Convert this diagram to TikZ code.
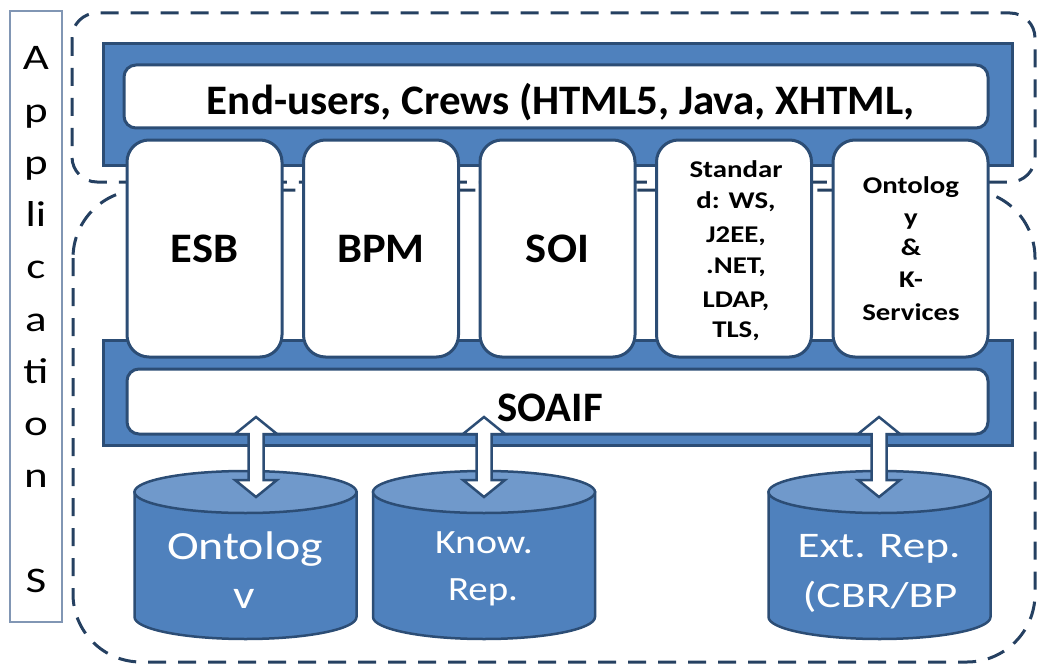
\documentclass[tikz,border=0pt]{standalone}
\usepackage{fontspec}
\setmainfont{Carlito}
\usepackage{graphicx}
\definecolor{blueF}{HTML}{4F81BD}
\definecolor{blueD}{HTML}{2C4D75}
\definecolor{cylTop}{HTML}{7099CB}
\definecolor{dashC}{HTML}{254061}
\definecolor{appBox}{HTML}{8196B4}
\newcommand{\sx}[2]{\scalebox{#1}[1]{#2}}
\newcommand{\rw}[2]{\resizebox{#1}{\height}{#2}}
\begin{document}
\begin{tikzpicture}[x=1pt,y=-1pt,
  band/.style={fill=blueF, draw=blueD, line width=3pt, inner sep=0pt},
  wbar/.style={fill=white, draw=blueD, line width=3pt, rounded corners=12pt, inner sep=0pt},
  colbox/.style={fill=white, draw=blueD, line width=3pt, rounded corners=22pt, inner sep=0pt, minimum width=155pt, minimum height=217pt},
  dashbox/.style={draw=dashC, line width=3pt, dash pattern=on 18pt off 12pt},
  barrow/.style={fill=white, draw=blueD, line width=2.5pt, line join=miter},
  cylbody/.style={fill=blueF, draw=blueD, line width=2.5pt},
  cyltop/.style={fill=cylTop, draw=blueD, line width=2.5pt},
  btxt/.style={font=\bfseries\fontsize{42}{48}\selectfont, inner sep=0pt},
  stxt/.style={font=\bfseries\fontsize{24}{28}\selectfont, anchor=base, inner sep=0pt},
  ctxt/.style={text=white, anchor=base, inner sep=0pt},
  atxt/.style={font=\fontsize{36}{40}\selectfont, anchor=base, inner sep=0pt}]
\useasboundingbox (0,0) rectangle (1038,666);

% dashed boundaries
\draw[dashbox, rounded corners=25pt] (72,13) rectangle (1035,182);
\draw[dashbox, rounded corners=68pt] (73,190) rectangle (1035,662);

% blue bands
\node[band, minimum width=909pt, minimum height=121pt] (topband) at (557.5,104.5) {};
\node[band, minimum width=909pt, minimum height=105pt] (botband) at (557.5,392.5) {};

% white bars
\node[wbar, minimum width=864pt, minimum height=63pt] (topbar) at (556,96.5) {};
\node[wbar, minimum width=861pt, minimum height=65pt] (soaif) at (557.5,401.5) {};

% columns
\node[colbox] (esb) at (204.5,248.5) {};
\node[colbox] (bpm) at (381,248.5) {};
\node[colbox] (soi) at (557.5,248.5) {};
\node[colbox] (std) at (734,248.5) {};
\node[colbox] (ont) at (910.5,248.5) {};

% cylinders
\foreach \cx/\nm in {245.5/cyla,484/cylb,879.5/cylc}{
  \draw[cylbody] (\cx-111,492) -- (\cx-111,617) arc[start angle=180,end angle=0,x radius=111,y radius=22] -- (\cx+111,492) -- cycle;
  \draw[cyltop] (\cx,492) ellipse [x radius=111, y radius=21];
  \coordinate (\nm) at (\cx,492);
}

% double block arrows
\foreach \cx in {256,484,879}{
  \draw[barrow] (\cx,417) -- ++(21,17) -- ++(-13.5,0) -- ++(0,46) -- ++(13.5,0) -- (\cx,497) -- ++(-21,-17) -- ++(13.5,0) -- ++(0,-46) -- ++(-13.5,0) -- cycle;
}

% texts
\node[btxt, anchor=base] (toptxt) at (561,115) {\rw{708pt}{End-users, Crews (HTML5, Java, XHTML,}};
\node[btxt, anchor=base] (soaiftxt) at (550,421) {\sx{1.02}{SOAIF}};
\node[btxt, anchor=base] (esbtxt) at (204.5,262) {\sx{1.06}{ESB}};
\node[btxt, anchor=base] (bpmtxt) at (381,262) {\sx{1.06}{BPM}};
\node[btxt, anchor=base] (soitxt) at (557.5,262) {\sx{1.06}{SOI}};

\foreach \t/\y [count=\i] in {Standar/177, {d: WS,}/208, {J2EE,}/242, {.NET,}/273, {LDAP,}/307, {TLS,}/337}{
  \node[stxt] (std\i) at (736,\y) {\sx{1.2}{\t}};
}
\foreach \t/\y [count=\i] in {Ontolog/193, y/225, \&/255, K-/287, Services/320}{
  \node[stxt] (ont\i) at (911,\y) {\sx{1.2}{\t}};
}

\node[ctxt, font=\fontsize{40}{44}\selectfont] (c1a) at (245,559) {\rw{156pt}{Ontolog}};
\node[ctxt, font=\fontsize{40}{44}\selectfont] (c1b) at (244,608) {\sx{1.19}{v}};
\node[ctxt, font=\fontsize{34}{40}\selectfont] (c2a) at (484,553) {\rw{98pt}{Know.}};
\node[ctxt, font=\fontsize{34}{40}\selectfont] (c2b) at (483,600) {\rw{70pt}{Rep.}};
\node[ctxt, font=\fontsize{36}{40}\selectfont] (c3a) at (879,557) {\rw{163pt}{Ext. Rep.}};
\node[ctxt, font=\fontsize{36}{40}\selectfont] (c3b) at (880,607) {\rw{155pt}{(CBR/BP}};

% Applications column
\node[draw=appBox, line width=1.5pt, inner sep=0pt, minimum width=52pt, minimum height=611pt] (appbox) at (36,316.5) {};
\foreach \t/\k [count=\i] in {A/0, p/1, p/2, li/3, c/4, a/5, ti/6, o/7, n/8, S/10}{
  \node[atxt] (app\i) at (36,70+52.2*\k) {\sx{1.25}{\t}};
}
\end{tikzpicture}
\end{document}
